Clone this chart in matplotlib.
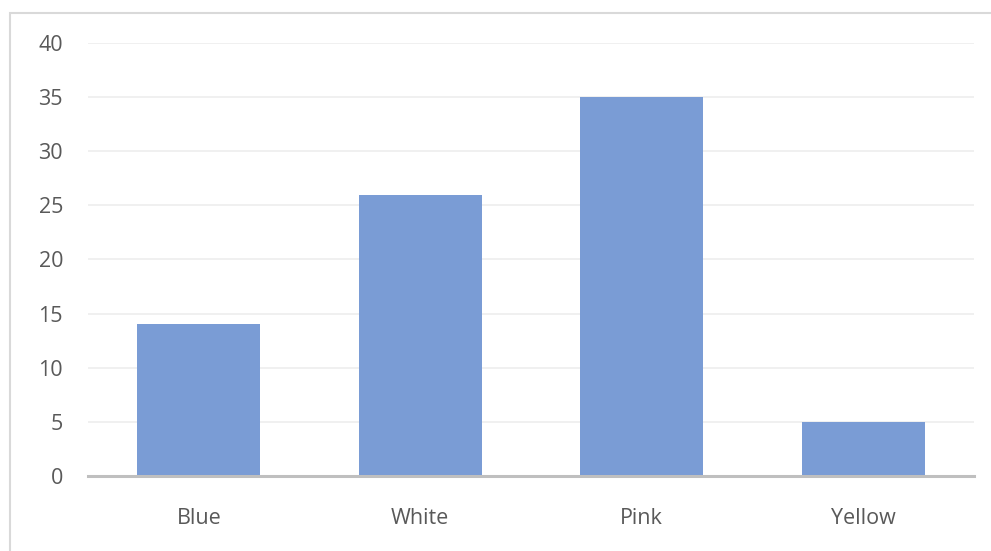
import matplotlib.pyplot as plt
from matplotlib.patches import Rectangle

categories = ['Blue', 'White', 'Pink', 'Yellow']
values = [14, 26, 35, 5]
y_ticks = [0, 5, 10, 15, 20, 25, 30, 35, 40]

plt.rcParams['font.family'] = ['Open Sans', 'DejaVu Sans']

fig = plt.figure(figsize=(9.91, 5.51), dpi=100)
ax = fig.add_axes([0.0888, 0.1361, 0.8941, 0.7859])

# light outer frame of the chart area (right/bottom cut off)
fig.patches.append(Rectangle((10 / 991, -0.1), 1.1, 1 - 13 / 551 + 0.1,
                             transform=fig.transFigure, fill=False,
                             edgecolor='#D9D9D9', linewidth=1.5))

ax.bar(range(len(categories)), values, width=0.555, color='#7A9CD5', zorder=2)

ax.set_xlim(-0.5, len(categories) - 0.5)
ax.set_ylim(0, 40)
ax.set_yticks(y_ticks)
ax.set_xticks(range(len(categories)))
ax.set_xticklabels(categories)

ax.grid(axis='y', color='#EEEEEE', linewidth=1.2, zorder=0)
for side in ['top', 'right', 'left']:
    ax.spines[side].set_visible(False)
ax.spines['bottom'].set_color('#BFBFBF')
ax.spines['bottom'].set_linewidth(2.2)
ax.spines['bottom'].set_zorder(3)

ax.tick_params(axis='both', length=0, labelsize=15.5, labelcolor='#595959')
ax.tick_params(axis='y', pad=18)
ax.tick_params(axis='x', pad=23)

fig.savefig('out.png', dpi=100)
